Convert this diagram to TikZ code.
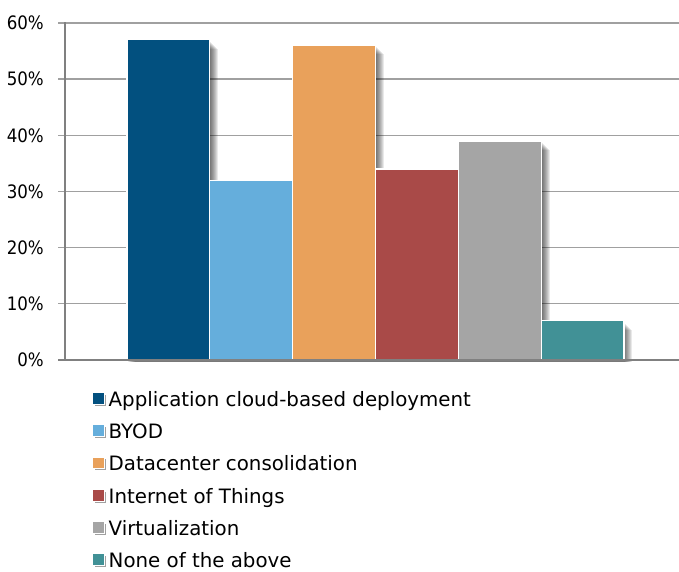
\documentclass[tikz,border=0pt]{standalone}
\usepackage{fontspec}
\setmainfont{DejaVu Sans}
\newfontfamily\condfont{DejaVu Sans Condensed}
\definecolor{cA}{HTML}{02507F}
\definecolor{cB}{HTML}{65AEDC}
\definecolor{cC}{HTML}{E9A15B}
\definecolor{cD}{HTML}{A94A48}
\definecolor{cE}{HTML}{A5A5A5}
\definecolor{cF}{HTML}{419196}
\definecolor{gridc}{HTML}{A0A0A0}
\definecolor{axisc}{HTML}{808080}
\newcommand\barshadow[3]{%
  \foreach \k in {1,...,8}{\fill[black,opacity=0.085] (#1+\k,#3+\k+1) rectangle (#2+\k,361.5);}}
\newcommand\chartbar[4]{%
  \barshadow{#1}{#2}{#3}%
  \fill[#4,draw=white,line width=1.3pt] (#1,#3) rectangle (#2,360);}
\newcommand\legkey[2]{%
  \fill[gridc] (94.5,#1-4.5) rectangle (105.5,#1+6.5);
  \fill[#2,draw=white,line width=0.8pt] (92.5,#1-6.5) rectangle (104,#1+5);}
\tikzset{ylab/.style={anchor=east,inner sep=0pt,font=\condfont\fontsize{18.5}{20}\selectfont},
  leg/.style={anchor=base west,inner sep=0pt,font=\fontsize{19.8}{22}\selectfont}}
\begin{document}
\begin{tikzpicture}[x=1pt,y=-1pt]
\useasboundingbox (0,0) rectangle (679,572);
\fill[white] (0,0) rectangle (679,572);
% grid
\foreach \v in {10,20,30,40,50,60}{\draw[gridc,line width=1.3pt] (58,{360-\v*5.617}) -- (679,{360-\v*5.617});}
% bars
\chartbar{127}{209.5}{39.8}{cA}
\chartbar{209.5}{292.5}{180.3}{cB}
\chartbar{292.5}{375.5}{45.5}{cC}
\chartbar{375.5}{458.5}{169.0}{cD}
\chartbar{458.5}{541.5}{140.9}{cE}
\chartbar{541.5}{624}{320.7}{cF}
% axes
\draw[axisc,line width=1.3pt] (65,22.4) -- (65,360);
\draw[axisc,line width=1.3pt] (58,360) -- (679,360);
% labels
\node[ylab] (t60) at (44,23) {60\%};
\node[ylab] (t50) at (44,79.2) {50\%};
\node[ylab] (t40) at (44,135.3) {40\%};
\node[ylab] (t30) at (44,191.5) {30\%};
\node[ylab] (t20) at (44,247.7) {20\%};
\node[ylab] (t10) at (44,303.8) {10\%};
\node[ylab] (t0) at (44,360) {0\%};
% legend
\legkey{399}{cA}
\legkey{431}{cB}
\legkey{463.5}{cC}
\legkey{496}{cD}
\legkey{528}{cE}
\legkey{560}{cF}
\node[leg] (g1) at (108.5,406) {Application cloud-based deployment};
\node[leg] (g2) at (108.5,438) {BYOD};
\node[leg] (g3) at (108.5,470.5) {Datacenter consolidation};
\node[leg] (g4) at (108.5,503) {Internet of Things};
\node[leg] (g5) at (108.5,535) {Virtualization};
\node[leg] (g6) at (108.5,567) {None of the above};
\end{tikzpicture}
\end{document}
